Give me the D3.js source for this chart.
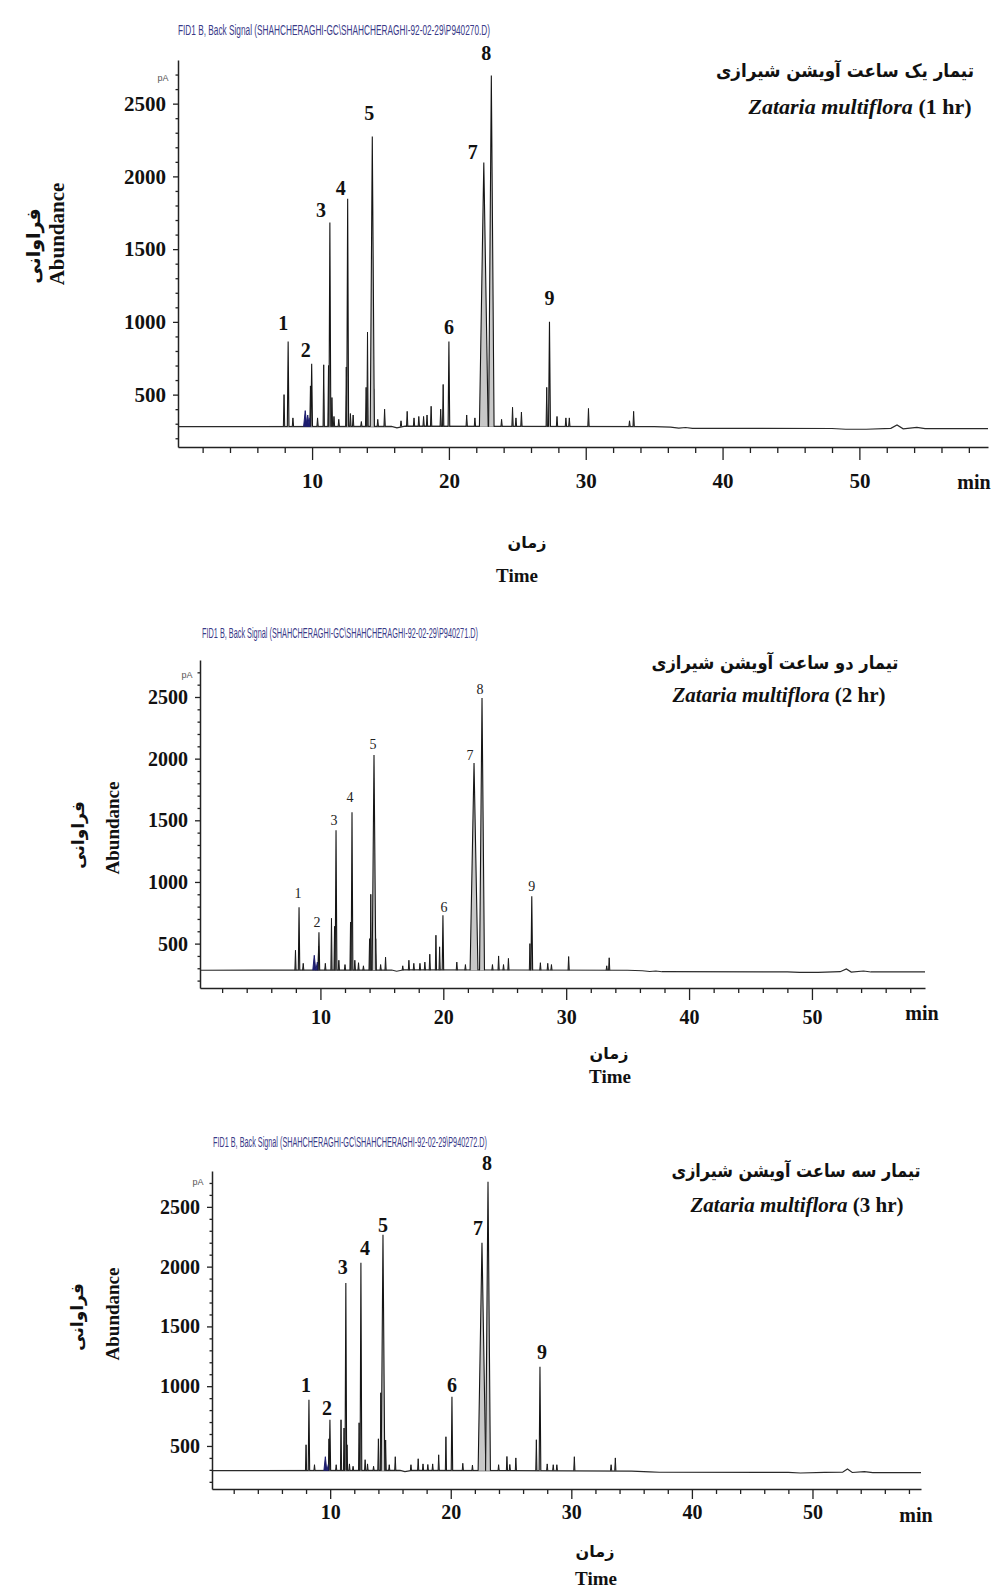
<!DOCTYPE html>
<html>
<head>
<meta charset="utf-8">
<script src="https://cdn.jsdelivr.net/npm/d3@7"></script>
<style>
    body { margin: 0; background: #fff; }
    svg { display: block; }
    .num { font-family: "Liberation Serif", "Times New Roman", serif; font-weight: bold; fill: #111; }
    .fa { font-family: "DejaVu Sans", sans-serif; font-weight: bold; fill: #111; }
</style>
</head>
<body>
<div id="wrapper"></div>
<script>

/// DATEN ///////////////////////////////////////////////

const fidTitles = [
    "FID1 B, Back Signal (SHAHCHERAGHI-GC\\SHAHCHERAGHI-92-02-29\\P940270.D)",
    "FID1 B, Back Signal (SHAHCHERAGHI-GC\\SHAHCHERAGHI-92-02-29\\P940271.D)",
    "FID1 B, Back Signal (SHAHCHERAGHI-GC\\SHAHCHERAGHI-92-02-29\\P940272.D)"
];
const treatmentFa = ["تیمار یک ساعت آویشن شیرازی", "تیمار دو ساعت آویشن شیرازی", "تیمار سه ساعت آویشن شیرازی"];
const treatmentHr = ["(1 hr)", "(2 hr)", "(3 hr)"];

const xMajorTicks = [10, 20, 30, 40, 50];
const yMajorTicks = [500, 1000, 1500, 2000, 2500];
const yDomain = [140, 2800];

const peakIds = [1, 2, 3, 4, 5, 6, 7, 8, 9];
// Retentionszeit (min), Höhe (pA), halbe Breite an der Basis (min)
const peakTimes1 = [8.25, 9.97, 11.3, 12.6, 14.4, 20.0, 22.55, 23.1, 27.35];
const peakHeights1 = [865, 712, 1683, 1847, 2274, 865, 2095, 2693, 1000];
const peakTimes2 = [8.26, 9.88, 11.27, 12.57, 14.36, 19.97, 22.5, 23.15, 27.2];
const peakHeights2 = [795, 592, 1420, 1566, 2030, 730, 1964, 2492, 885];
const peakTimes3 = [8.24, 9.98, 11.3, 12.55, 14.38, 20.1, 22.59, 23.09, 27.4];
const peakHeights3 = [886, 719, 1864, 2032, 2266, 911, 2199, 2709, 1162];
const peakWidths = [0.06, 0.06, 0.07, 0.07, 0.15, 0.06, 0.32, 0.2, 0.07];

const peakBase = [280, 284, 293];

const minorPeaks1 = [[7.95, 500], [8.6, 340], [9.88, 560], [10.4, 340], [10.85, 705], [11.2, 700], [11.45, 480],
    [11.6, 350], [11.95, 330], [12.5, 690], [12.8, 370], [13.0, 360], [13.6, 315], [13.95, 550], [14.05, 930],
    [14.5, 540], [14.8, 330], [15.3, 400], [16.5, 320], [16.95, 385], [17.45, 340], [17.8, 350], [18.15, 350],
    [18.4, 360], [18.7, 420], [19.4, 400], [19.58, 570], [21.3, 360], [21.9, 340], [23.85, 330], [24.65, 413],
    [24.9, 340], [25.3, 380], [27.15, 550], [27.9, 350], [28.55, 340], [28.8, 340], [30.2, 405], [33.2, 320], [33.5, 385]];
const minorPeaks2 = [[7.97, 446], [8.6, 340], [9.85, 480], [10.4, 340], [10.9, 705], [11.15, 640], [11.5, 365],
    [12.0, 330], [12.45, 675], [12.8, 365], [13.1, 345], [13.5, 320], [14.0, 540], [14.1, 900], [14.5, 540],
    [14.9, 330], [15.3, 390], [16.7, 320], [17.2, 365], [17.6, 340], [18.1, 340], [18.5, 350], [18.9, 414],
    [19.4, 568], [19.7, 474], [21.1, 350], [21.8, 330], [24.0, 330], [24.5, 400], [24.9, 330], [25.3, 380],
    [27.05, 500], [27.9, 345], [28.5, 340], [28.8, 330], [30.2, 395], [33.3, 320], [33.5, 385]];
const minorPeaks3 = [[8.0, 510], [8.7, 343], [9.9, 560], [10.5, 343], [10.9, 719], [11.15, 650], [11.4, 510],
    [11.6, 350], [11.9, 330], [12.4, 694], [12.9, 385], [13.1, 350], [13.6, 330], [14.0, 560], [14.2, 945],
    [14.6, 550], [14.9, 343], [15.4, 410], [16.7, 343], [17.3, 393], [17.7, 350], [18.1, 345], [18.5, 350],
    [19.0, 426], [19.6, 577], [21.0, 355], [21.8, 340], [23.97, 343], [24.66, 412], [24.9, 345], [25.4, 400],
    [27.1, 552], [28.0, 350], [28.5, 343], [28.8, 343], [30.25, 410], [33.3, 343], [33.65, 400]];

const bluePeaks1 = [[9.5, 390], [9.68, 360], [9.85, 340]];
const bluePeaks2 = [[9.5, 405], [9.75, 350]];
const bluePeaks3 = [[9.6, 410], [9.85, 345]];

const baseline1 = [[0.2, 280], [15.8, 282], [16.2, 272], [16.8, 284], [35, 280], [36.2, 276], [36.8, 270], [37.3, 274],
    [37.8, 268], [48, 267], [49, 262], [50.5, 262], [52.3, 268], [52.75, 292], [53.2, 265], [54.2, 275], [54.8, 266], [59.4, 266]];
const baseline2 = [[0.2, 284], [15.8, 286], [16.2, 276], [16.8, 288], [35, 284], [36.2, 280], [36.8, 274], [37.3, 278],
    [37.8, 272], [48, 271], [49, 266], [50.5, 267], [52.3, 272], [52.8, 294], [53.2, 269], [54.2, 278], [54.8, 270], [59.2, 270]];
const baseline3 = [[0.2, 293], [15.8, 295], [16.2, 285], [16.8, 296], [35, 290], [36.5, 283], [37.3, 280], [48, 279],
    [49, 274], [51, 279], [52.5, 280], [52.9, 307], [53.3, 278], [54.3, 285], [55, 277], [59, 277]];

const panels = [
    { times: peakTimes1, heights: peakHeights1, minor: minorPeaks1, blue: bluePeaks1, baseline: baseline1 },
    { times: peakTimes2, heights: peakHeights2, minor: minorPeaks2, blue: bluePeaks2, baseline: baseline2 },
    { times: peakTimes3, heights: peakHeights3, minor: minorPeaks3, blue: bluePeaks3, baseline: baseline3 }
];

/// LAYOUT ///////////////////////////////////////////////

const layout = [
    {
        x0: 178, x1: 988, xDom: [0.2, 59.4], yBot: 447, yTop: 60,
        fid: [178, 490, 30], pA: [163, 78],
        yLabFa: [33, 246], yLabEn: [57, 234], yLabSize: 21, yLabFaSize: 19,
        tickFont: 21, majorTick: 13, minorTick: 6, xPad: 13, yPad: 7,
        min: [974, 482], timeFa: [527, 542], timeEn: [517, 575],
        titleFa: [845, 70], titleFaLen: 258, titleEn: [860, 106], titleEnSize: 22,
        labelSize: 20, labelBold: true,
        nudge: [[-5, -19], [-6, -14], [-9, -13], [-7, -11], [-3, -24], [0, -15], [-11, -11], [-5, -23], [0, -24]]
    },
    {
        x0: 200, x1: 925, xDom: [0.2, 59.2], yBot: 988, yTop: 660,
        fid: [202, 478, 633], pA: [187, 675],
        yLabFa: [78, 835], yLabEn: [112, 828], yLabSize: 19, yLabFaSize: 17,
        tickFont: 20, majorTick: 12, minorTick: 5, xPad: 10, yPad: 7,
        min: [922, 1013], timeFa: [609, 1053], timeEn: [610, 1076],
        titleFa: [775, 662], titleFaLen: 247, titleEn: [779, 695], titleEnSize: 21,
        labelSize: 14, labelBold: false,
        nudge: [[-1, -14], [-2, -10], [-2, -10], [-2, -15], [-1, -10], [1, -8], [-4, -8], [-2, -8], [0, -10]]
    },
    {
        x0: 212, x1: 921, xDom: [0.2, 59.0], yBot: 1489, yTop: 1171,
        fid: [213, 487, 1142], pA: [198, 1182],
        yLabFa: [77, 1317], yLabEn: [112, 1314], yLabSize: 19, yLabFaSize: 17,
        tickFont: 20, majorTick: 10, minorTick: 5, xPad: 6, yPad: 7,
        min: [916, 1515], timeFa: [595, 1551], timeEn: [596, 1578],
        titleFa: [796, 1170], titleFaLen: 249, titleEn: [797, 1205], titleEnSize: 21,
        labelSize: 20, labelBold: true,
        nudge: [[-3, -15], [-3, -12], [-3, -16], [4, -15], [0, -10], [0, -12], [-4, -15], [-1, -19], [2, -15]]
    }
];

const wrapper = d3.select('#wrapper')
    .append('svg')
    .attr('width', 995)
    .attr('height', 1591);

panels.forEach((p, i) => {
    const L = layout[i];
    const base = peakBase[i];

    const x = d3.scaleLinear().domain(L.xDom).range([L.x0, L.x1]);
    const y = d3.scaleLinear().domain(yDomain).range([L.yBot, L.yTop]);
    const line = d3.line().x(d => x(d[0])).y(d => y(d[1]));
    const spike = (t, h, w) => line([[t - w, base], [t, h], [t + w, base]]);

    const g = wrapper.append('g');

    /// ACHSEN ///////////////////////////////////////////
    const xMinor = g.append('g')
        .attr('transform', `translate(0,${L.yBot})`)
        .call(d3.axisBottom(x)
            .tickValues(d3.range(2, 59, 2).filter(v => v % 10 !== 0))
            .tickSize(L.minorTick).tickSizeOuter(0).tickFormat(''));
    xMinor.select('.domain').remove();

    const xAxis = g.append('g')
        .attr('transform', `translate(0,${L.yBot})`)
        .call(d3.axisBottom(x)
            .tickValues(xMajorTicks)
            .tickSize(L.majorTick).tickSizeOuter(0).tickPadding(L.xPad)
            .tickFormat(d3.format('d')));

    const yMinor = g.append('g')
        .attr('transform', `translate(${L.x0},0)`)
        .call(d3.axisLeft(y)
            .tickValues(d3.range(200, 2800, 100).filter(v => v % 500 !== 0))
            .tickSize(2.5).tickSizeOuter(0).tickFormat(''));
    yMinor.select('.domain').remove();

    const yAxis = g.append('g')
        .attr('transform', `translate(${L.x0},0)`)
        .call(d3.axisLeft(y)
            .tickValues(yMajorTicks)
            .tickSize(5).tickSizeOuter(0).tickPadding(L.yPad)
            .tickFormat(d3.format('d')));

    [xMinor, xAxis, yMinor, yAxis].forEach(a => {
        a.selectAll('line').attr('stroke', '#222').attr('stroke-width', 1.3);
        a.selectAll('.domain').attr('stroke', '#222').attr('stroke-width', 1.5);
        a.selectAll('text')
            .attr('class', 'num')
            .style('font-size', L.tickFont + 'px');
    });

    /// SIGNAL ///////////////////////////////////////////
    g.append('path')
        .attr('d', line(p.baseline))
        .attr('fill', 'none')
        .attr('stroke', '#2a2a2a')
        .attr('stroke-width', 1.2);

    g.selectAll('.minorPeak')
        .data(p.minor)
        .enter()
        .append('path')
        .attr('class', 'minorPeak')
        .attr('d', d => spike(d[0], d[1], 0.05))
        .attr('fill', '#666')
        .attr('stroke', '#1a1a1a')
        .attr('stroke-width', 1);

    g.selectAll('.bluePeak')
        .data(p.blue)
        .enter()
        .append('path')
        .attr('class', 'bluePeak')
        .attr('d', d => spike(d[0], d[1], 0.12))
        .attr('fill', '#1c1c6e')
        .attr('stroke', '#1c1c6e')
        .attr('stroke-width', 1);

    g.selectAll('.mainPeak')
        .data(peakIds)
        .enter()
        .append('path')
        .attr('class', 'mainPeak')
        .attr('d', (d, k) => spike(p.times[k], p.heights[k], peakWidths[k]))
        .attr('fill', '#c8c8c8')
        .attr('stroke', '#151515')
        .attr('stroke-width', 1.1);

    // Peak-Nummern
    g.selectAll('.peakLabel')
        .data(peakIds)
        .enter()
        .append('text')
        .attr('class', 'num')
        .attr('x', (d, k) => x(p.times[k]) + L.nudge[k][0])
        .attr('y', (d, k) => y(p.heights[k]) + L.nudge[k][1])
        .attr('text-anchor', 'middle')
        .attr('dominant-baseline', 'central')
        .style('font-size', L.labelSize + 'px')
        .style('font-weight', L.labelBold ? 'bold' : 'normal')
        .style('fill', L.labelBold ? '#111' : '#222')
        .text(d => d);

    /// TEXTE ////////////////////////////////////////////
    g.append('text')
        .attr('x', L.fid[0])
        .attr('y', L.fid[2])
        .attr('dominant-baseline', 'central')
        .attr('textLength', L.fid[1] - L.fid[0])
        .attr('lengthAdjust', 'spacingAndGlyphs')
        .style('font-family', '"Liberation Sans", Arial, sans-serif')
        .style('font-size', '14px')
        .style('fill', '#3a3a88')
        .text(fidTitles[i]);

    g.append('text')
        .attr('x', L.pA[0])
        .attr('y', L.pA[1])
        .attr('text-anchor', 'middle')
        .attr('dominant-baseline', 'central')
        .style('font-family', '"Liberation Sans", Arial, sans-serif')
        .style('font-size', '9px')
        .style('fill', '#555')
        .text('pA');

    g.append('text')
        .attr('class', 'num')
        .attr('x', L.min[0])
        .attr('y', L.min[1])
        .attr('text-anchor', 'middle')
        .attr('dominant-baseline', 'central')
        .style('font-size', '20px')
        .text('min');

    g.append('text')
        .attr('class', 'fa')
        .attr('x', L.timeFa[0])
        .attr('y', L.timeFa[1])
        .attr('text-anchor', 'middle')
        .attr('dominant-baseline', 'central')
        .style('font-size', '16px')
        .text('زمان');

    g.append('text')
        .attr('class', 'num')
        .attr('x', L.timeEn[0])
        .attr('y', L.timeEn[1])
        .attr('text-anchor', 'middle')
        .attr('dominant-baseline', 'central')
        .style('font-size', '19px')
        .text('Time');

    g.append('text')
        .attr('class', 'fa')
        .attr('transform', `translate(${L.yLabFa[0]},${L.yLabFa[1]}) rotate(-90)`)
        .attr('text-anchor', 'middle')
        .attr('dominant-baseline', 'central')
        .style('font-size', L.yLabFaSize + 'px')
        .text('فراوانی');

    g.append('text')
        .attr('class', 'num')
        .attr('transform', `translate(${L.yLabEn[0]},${L.yLabEn[1]}) rotate(-90)`)
        .attr('text-anchor', 'middle')
        .attr('dominant-baseline', 'central')
        .style('font-size', L.yLabSize + 'px')
        .text('Abundance');

    g.append('text')
        .attr('class', 'fa')
        .attr('x', L.titleFa[0])
        .attr('y', L.titleFa[1])
        .attr('text-anchor', 'middle')
        .attr('dominant-baseline', 'central')
        .attr('textLength', L.titleFaLen)
        .attr('lengthAdjust', 'spacingAndGlyphs')
        .style('font-size', '18px')
        .text(treatmentFa[i]);

    const zat = g.append('text')
        .attr('class', 'num')
        .attr('x', L.titleEn[0])
        .attr('y', L.titleEn[1])
        .attr('text-anchor', 'middle')
        .attr('dominant-baseline', 'central')
        .style('font-size', L.titleEnSize + 'px');
    zat.append('tspan').style('font-style', 'italic').text('Zataria multiflora');
    zat.append('tspan').text(' ' + treatmentHr[i]);
});

</script>
</body>
</html>
